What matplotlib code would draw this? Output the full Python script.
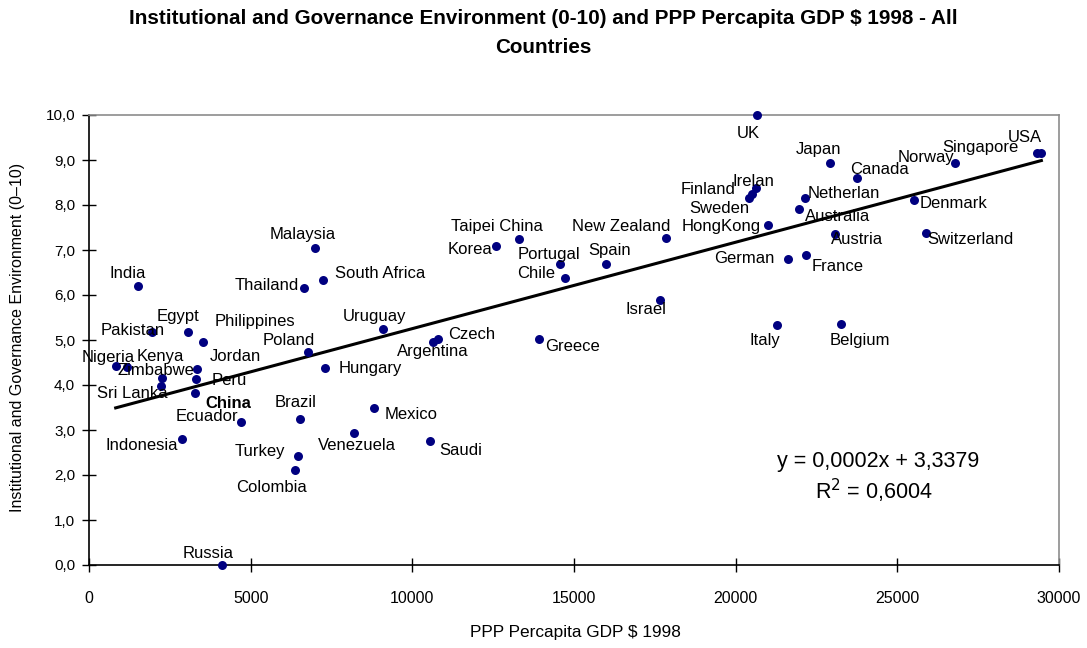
import numpy as np
import matplotlib
matplotlib.use('Agg')
import matplotlib.pyplot as plt
from matplotlib.ticker import FuncFormatter

plt.rcParams['font.family'] = ['Liberation Sans', 'DejaVu Sans']

# data
countries = ['India', 'Thailand', 'South Africa', 'Pakistan', 'Egypt', 'Philippines', 'Poland',
             'Nigeria', 'Kenya', 'Zimbabwe', 'Sri Lanka', 'Jordan', 'Peru', 'China', 'Hungary',
             'Ecuador', 'Brazil', 'Indonesia', 'Turkey', 'Mexico', 'Venezuela', 'Saudi', 'Colombia',
             'Russia', 'Malaysia', 'Uruguay', 'Argentina', 'Czech', 'Greece', 'Korea', 'Taipei China',
             'Portugal', 'Chile', 'Spain', 'Israel', 'New Zealand', 'UK', 'Japan', 'Canada', 'Norway',
             'Singapore', 'USA', 'Irelan', 'Finland', 'Sweden', 'Netherlan', 'Australia', 'Denmark',
             'HongKong', 'Austria', 'Switzerland', 'German', 'France', 'Italy', 'Belgium']
gdp = [1525, 6650, 7250, 1940, 3070, 3535, 6775,
       825, 1165, 2250, 2220, 3350, 3300, 3280, 7300,
       4690, 6525, 2875, 6455, 8815, 8195, 10540, 6370,
       4125, 6990, 9100, 10630, 10805, 13910, 12590, 13310,
       14570, 14730, 15990, 17670, 17840, 20670, 22920, 23760, 26775,
       29310, 29455, 20640, 20495, 20420, 22145, 21950, 25515,
       21000, 23075, 25900, 21605, 22185, 21270, 23250]
score = [6.20, 6.15, 6.33, 5.18, 5.18, 4.96, 4.74,
         4.42, 4.41, 4.15, 3.98, 4.36, 4.13, 3.82, 4.38,
         3.18, 3.24, 2.80, 2.43, 3.49, 2.94, 2.75, 2.11,
         0.0, 7.05, 5.25, 4.96, 5.02, 5.03, 7.09, 7.25,
         6.68, 6.38, 6.70, 5.89, 7.27, 10.0, 8.94, 8.61, 8.93,
         9.16, 9.15, 8.37, 8.24, 8.15, 8.15, 7.92, 8.11,
         7.55, 7.35, 7.38, 6.81, 6.90, 5.33, 5.35]

x_ticks = [0, 5000, 10000, 15000, 20000, 25000, 30000]
y_ticks = [0, 1, 2, 3, 4, 5, 6, 7, 8, 9, 10]

# label offsets in pixels (dx right, dy down) from each dot
label_off = {
    'India': (-11, -12), 'Thailand': (-37, -3), 'South Africa': (57, -7), 'Pakistan': (-19, -1),
    'Egypt': (-10, -15), 'Philippines': (52, -20), 'Poland': (-19, -11), 'Nigeria': (-7, -9),
    'Kenya': (34, -10), 'Zimbabwe': (-6, -8), 'Sri Lanka': (-28, 8), 'Jordan': (38, -12),
    'Peru': (34, 1), 'China': (33, 10), 'Hungary': (45, 1), 'Ecuador': (-34, -5),
    'Brazil': (-4, -17), 'Indonesia': (-40, 6), 'Turkey': (-38, -4), 'Mexico': (37, 7),
    'Venezuela': (3, 13), 'Saudi': (31, 9), 'Colombia': (-23, 17), 'Russia': (-14, -12),
    'Malaysia': (-12, -13), 'Uruguay': (-9, -12), 'Argentina': (0, 10), 'Czech': (33, -5),
    'Greece': (34, 8), 'Korea': (-26, 4), 'Taipei China': (-22, -12), 'Portugal': (-11, -10),
    'Chile': (-29, -4), 'Spain': (4, -13), 'Israel': (-14, 10), 'New Zealand': (-45, -11),
    'UK': (-9, 19), 'Japan': (-12, -13), 'Canada': (22, -8), 'Norway': (-29, -6),
    'Singapore': (-56, -5), 'USA': (-17, -16), 'Irelan': (-3, -7), 'Finland': (-44, -5),
    'Sweden': (-30, 10), 'Netherlan': (39, -5), 'Australia': (39, 8), 'Denmark': (40, 3),
    'HongKong': (-47, 1), 'Austria': (22, 5), 'Switzerland': (44, 7), 'German': (-43, 0),
    'France': (31, 12), 'Italy': (-12, 15), 'Belgium': (19, 16),
}

W, H = 1087, 648
fig = plt.figure(figsize=(W / 100, H / 100), dpi=100)
ax = fig.add_axes([89 / W, 1 - 565 / H, (1059 - 89) / W, (565 - 115) / H])

ax.scatter(gdp, score, s=42, color='#000080', zorder=3, clip_on=False, linewidths=0)

# linear trendline
coef = np.polyfit(gdp, score, 1)
xl = np.array([min(gdp), max(gdp)])
ax.plot(xl, np.polyval(coef, xl), color='black', lw=2.2, zorder=2)

for c, xv, yv in zip(countries, gdp, score):
    dx, dy = label_off[c]
    ax.annotate(c, (xv, yv), xytext=(dx, -dy), textcoords='offset pixels',
                ha='center', va='center', fontsize=12,
                fontweight='bold' if c == 'China' else 'normal', zorder=4)

ax.set_xlim(0, 30000)
ax.set_ylim(0, 10)
ax.set_xticks(x_ticks)
ax.set_yticks(y_ticks)
ax.yaxis.set_major_formatter(FuncFormatter(lambda v, p: f'{v:.1f}'.replace('.', ',')))
ax.tick_params(axis='x', direction='inout', length=10, width=1, labelsize=11.5, pad=14)
ax.tick_params(axis='y', direction='inout', length=10, width=1, labelsize=11, pad=5)

for s in ['left', 'bottom']:
    ax.spines[s].set_color('black')
    ax.spines[s].set_linewidth(1.2)
for s in ['top', 'right']:
    ax.spines[s].set_color('#8c8c8c')
    ax.spines[s].set_linewidth(1.2)

fig.text(543 / W, 1 - 33 / H, 'Institutional and Governance Environment (0-10) and PPP Percapita GDP $ 1998 - All\nCountries',
         ha='center', va='center', fontsize=14.9, fontweight='bold', linespacing=1.65)
fig.text(575 / W, 1 - 633 / H, 'PPP Percapita GDP $ 1998', ha='center', va='center', fontsize=12.4)
fig.text(18 / W, 1 - 337 / H, 'Institutional and Governance Environment (0\u201310)',
         ha='center', va='center', rotation=90, fontsize=11.5)

fig.text(878 / W, 1 - 461 / H, 'y = 0,0002x + 3,3379', ha='center', va='center', fontsize=15.5)
fig.text(874 / W, 1 - 491 / H, 'R$^2$ = 0,6004', ha='center', va='center', fontsize=15.5)

fig.savefig('out.png', dpi=100)
